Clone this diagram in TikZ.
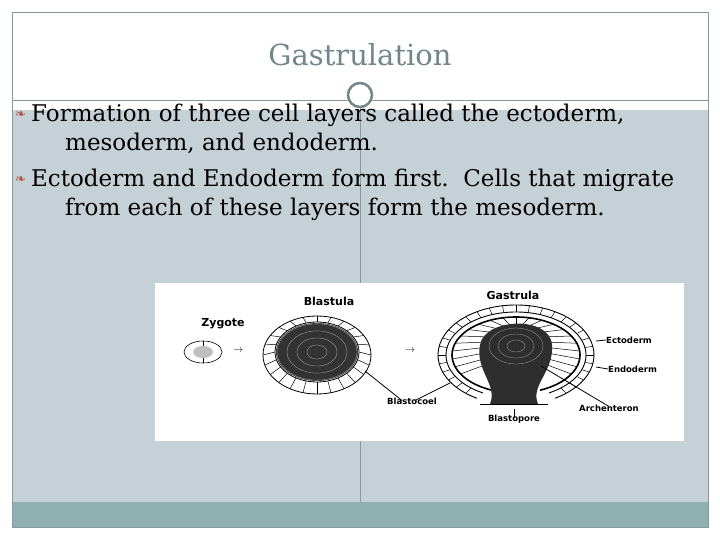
\documentclass[tikz,border=0pt]{standalone}
\usepackage{fontspec}
\setmainfont{DejaVu Serif}
\newfontfamily\lab{DejaVu Sans}
\newfontfamily\sym{DejaVu Sans}
\definecolor{slidegray}{HTML}{C5D1D7}
\definecolor{barteal}{HTML}{8FAFB0}
\definecolor{titlegray}{HTML}{72878A}
\definecolor{linegray}{HTML}{8A9A9C}
\definecolor{bulletred}{HTML}{B05A4A}
\tikzset{
  bodytext/.style={anchor=west,inner sep=0pt,font=\fontsize{23}{27}\selectfont},
  bio/.style={font=\lab\bfseries\fontsize{8.5}{10}\selectfont,inner sep=0pt},
  bigbio/.style={font=\lab\bfseries\fontsize{11}{13}\selectfont,inner sep=0pt},
  cellline/.style={line width=0.5pt},
  leader/.style={line width=0.8pt}
}
\begin{document}
\begin{tikzpicture}[x=1pt,y=-1pt]
\useasboundingbox (0,0) rectangle (720,540);
\fill[white] (0,0) rectangle (720,540);
\fill[slidegray] (12,110) rectangle (708,502);
\fill[barteal] (12,502) rectangle (708,527);
\draw[linegray,line width=0.6pt] (12,12) rectangle (708,527);
\draw[linegray,line width=0.6pt] (12,100) -- (708,100);
\draw[linegray,line width=0.6pt] (360,100) -- (360,502);
\node[circle,draw=titlegray,line width=2.5pt,fill=white,minimum size=24pt,inner sep=0pt] (ring) at (360,95) {};
\node[font=\fontsize{29}{34}\selectfont,text=titlegray] (title) at (360,55) {Gastrulation};
\node[bodytext,text=bulletred,font=\sym\fontsize{13}{14}\selectfont] (b1) at (15,115) {❧};
\node[bodytext] (t1) at (31,115) {Formation of three cell layers called the ectoderm,};
\node[bodytext] (t2) at (65,143) {mesoderm, and endoderm.};
\node[bodytext,text=bulletred,font=\sym\fontsize{13}{14}\selectfont] (b2) at (15,180) {❧};
\node[bodytext] (t3) at (31,180) {Ectoderm and Endoderm form first.\ \ Cells that migrate};
\node[bodytext] (t4) at (65,209) {from each of these layers form the mesoderm.};
% image
\fill[white] (155,283) rectangle (684,441);
% zygote
\node[bigbio] (zyg) at (223,324) {Zygote};
\draw[line width=0.6pt] (203,352) ellipse (19 and 11);
\draw[line width=0.4pt] (203,341) -- (203,363);
\fill[gray!50] (203,352) ellipse (10 and 6);
\node[font=\fontsize{10}{10}\selectfont] (a1) at (238,351) {$\rightarrow$};
% blastula
\node[bigbio] (bla) at (329,301) {Blastula};
\fill[black!80] (317,352) ellipse (41 and 29);
\foreach \r in {8,16,24,32}{\draw[white!70!black,line width=0.3pt] (317,352) ellipse ({\r*1.25} and {\r*0.88});}
\draw[line width=0.8pt] (317,355) ellipse (54 and 39);
\draw[line width=0.8pt] (317,352) ellipse (42 and 30);
\foreach \a in {0,15,...,345}{\draw[cellline] ({317+42*cos(\a)},{352+30*sin(\a)}) -- ({317+54*cos(\a)},{355+39*sin(\a)});}
\node[font=\fontsize{10}{10}\selectfont] (a2) at (410,351) {$\rightarrow$};
% gastrula
\node[bigbio] (gas) at (513,295) {Gastrula};
\draw[line width=0.9pt] ({516+78*cos(120)},{355+50*sin(120)}) arc (120:420:78 and 50);
\draw[line width=0.9pt] ({516+70*cos(118)},{355+43*sin(118)}) arc (118:422:70 and 43);
\draw[line width=1.6pt] ({516+64*cos(112)},{355+38*sin(112)}) arc (112:428:64 and 38);
\foreach \a in {130,140,...,410}{\draw[cellline] ({516+70*cos(\a)},{355+43*sin(\a)}) -- ({516+78*cos(\a)},{355+50*sin(\a)});}
\foreach \a in {150,162,...,400}{\draw[cellline] ({516+30*cos(\a)},{350+26*sin(\a)}) -- ({516+64*cos(\a)},{355+38*sin(\a)});}
\fill[black!82] (490,404) .. controls (498,385) and (475,370) .. (480,345)
  .. controls (484,318) and (550,315) .. (552,345)
  .. controls (554,372) and (530,385) .. (538,404) -- cycle;
\foreach \r in {6,12,18}{\draw[white!65!black,line width=0.3pt] (516,346) ellipse ({\r*1.5} and {\r});}
\draw[line width=0.8pt] (480,404) -- (548,404);
% labels
\node[bio,anchor=west] (ecto) at (606,340) {Ectoderm};
\node[bio,anchor=west] (endo) at (608,369) {Endoderm};
\node[bio,anchor=west] (arch) at (579,408) {Archenteron};
\node[bio] (blc) at (412,401) {Blastocoel};
\node[bio] (blp) at (514,419) {Blastopore};
\draw[leader] (ecto.west) -- ++(-10,1);
\draw[leader] (endo.west) -- ++(-12,-2);
\draw[leader] ([yshift=-2pt]arch.north) -- (541,366);
\draw[leader] ([xshift=-10pt,yshift=-3pt]blc.north) -- (365,371);
\draw[leader] ([xshift=3pt,yshift=-3pt]blc.north) -- (450,383);
\draw[leader] ([yshift=-3pt]blp.north) -- ++(0,-9);
\end{tikzpicture}
\end{document}
